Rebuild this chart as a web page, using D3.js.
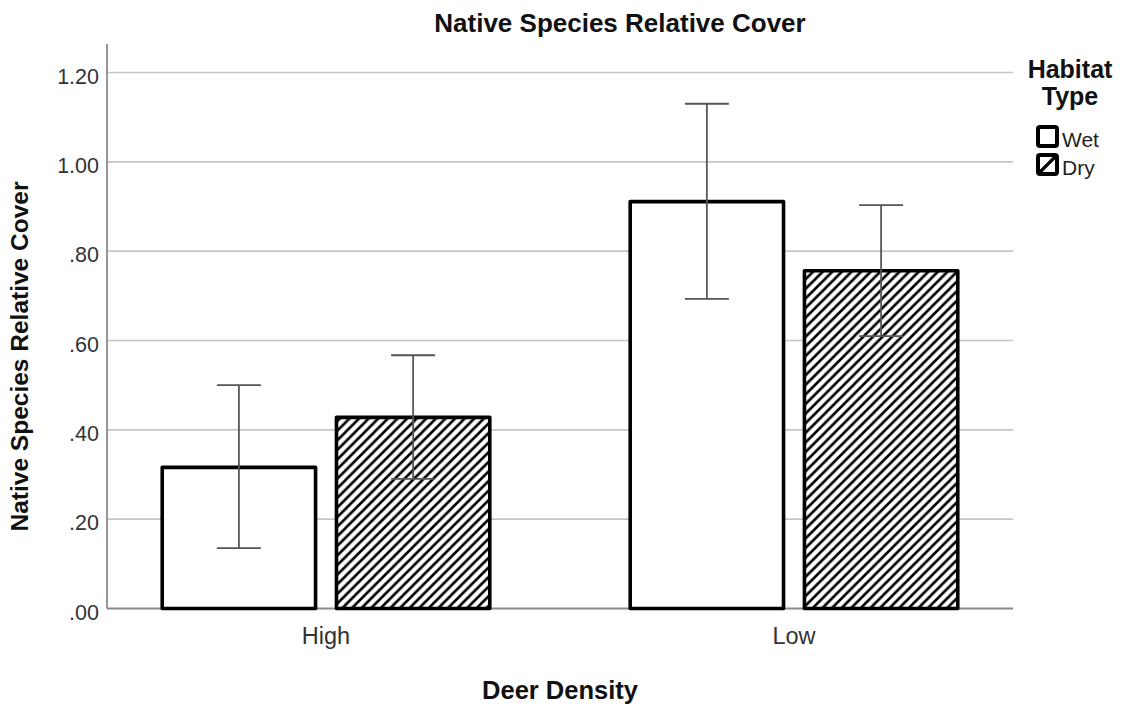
<!DOCTYPE html>
<html>
<head>
<meta charset="utf-8">
<script src="https://cdn.jsdelivr.net/npm/d3@7"></script>
<style>
  html, body { margin: 0; padding: 0; background: #fff; }
  svg { display: block; font-family: "Liberation Sans", Arial, sans-serif; }
</style>
</head>
<body>
<svg id="chart" width="1122" height="707"></svg>
<script>
// ---- data ----
const categories = ["High", "Low"];
const habitats = ["Wet", "Dry"];
const wetMeans = [0.316, 0.911];
const dryMeans = [0.428, 0.756];
const wetLower = [0.135, 0.693];
const wetUpper = [0.500, 1.130];
const dryLower = [0.290, 0.610];
const dryUpper = [0.567, 0.903];
const yTicks = [0, 0.2, 0.4, 0.6, 0.8, 1.0, 1.2];
const yTickLabels = [".00", ".20", ".40", ".60", ".80", "1.00", "1.20"];
const titleText = "Native Species Relative Cover";
const yLabelText = "Native Species Relative Cover";
const xLabelText = "Deer Density";
const legendTitle = ["Habitat", "Type"];

// ---- build table ----
const rows = [];
categories.forEach((c, i) => {
  rows.push({cat: c, hab: "Wet", mean: wetMeans[i], lo: wetLower[i], hi: wetUpper[i]});
  rows.push({cat: c, hab: "Dry", mean: dryMeans[i], lo: dryLower[i], hi: dryUpper[i]});
});

const svg = d3.select("#chart");
const left = 107, right = 1013, axisTop = 44;

const x0 = d3.scaleBand().domain(categories).range([left, right])
  .paddingInner(0.3).paddingOuter(0.118);
const x1 = d3.scaleBand().domain(habitats).range([0, x0.bandwidth()]).paddingInner(0.12);
const y = d3.scaleLinear().domain([0, 1.2]).range([608.5, 72.5]);

// hatch pattern
const defs = svg.append("defs");
const pat = defs.append("pattern").attr("id", "hatch")
  .attr("patternUnits", "userSpaceOnUse").attr("width", 9.6).attr("height", 9.6);
pat.append("rect").attr("width", 9.6).attr("height", 9.6).attr("fill", "#fff");
pat.append("path").attr("d", "M-2.4,2.4 L2.4,-2.4 M0,9.6 L9.6,0 M7.2,12 L12,7.2")
  .attr("stroke", "#000").attr("stroke-width", 2.6);

// gridlines
svg.append("g").selectAll("line").data(yTicks.filter(d => d > 0)).join("line")
  .attr("x1", left).attr("x2", right)
  .attr("y1", d => y(d)).attr("y2", d => y(d))
  .attr("stroke", "#c6c6c6").attr("stroke-width", 1.6);

// axes lines
svg.append("line").attr("x1", left).attr("x2", left).attr("y1", axisTop).attr("y2", y(0))
  .attr("stroke", "#8a8a8a").attr("stroke-width", 1.8);
svg.append("line").attr("x1", left).attr("x2", right).attr("y1", y(0)).attr("y2", y(0))
  .attr("stroke", "#8a8a8a").attr("stroke-width", 1.8);

// y tick labels
svg.append("g").selectAll("text").data(yTicks).join("text")
  .attr("x", 99).attr("y", d => y(d) + 11)
  .attr("text-anchor", "end").attr("font-size", 21.5).attr("fill", "#333")
  .text((d, i) => yTickLabels[i]);

// x tick labels
svg.append("g").selectAll("text").data(categories).join("text")
  .attr("x", d => x0(d) + x0.bandwidth() / 2).attr("y", 644)
  .attr("text-anchor", "middle").attr("font-size", 23.5).attr("fill", "#333")
  .text(d => d);

// bars
svg.append("g").selectAll("rect").data(rows).join("rect")
  .attr("x", d => x0(d.cat) + x1(d.hab))
  .attr("width", x1.bandwidth())
  .attr("y", d => y(d.mean))
  .attr("height", d => y(0) - y(d.mean))
  .attr("fill", d => d.hab === "Wet" ? "#fff" : "url(#hatch)")
  .attr("stroke", "#000").attr("stroke-width", 3.6)
  .attr("stroke-linejoin", "round");

// error bars
const eb = svg.append("g").attr("stroke", "#555").attr("stroke-width", 1.8);
rows.forEach(d => {
  const cx = x0(d.cat) + x1(d.hab) + x1.bandwidth() / 2;
  eb.append("line").attr("x1", cx).attr("x2", cx).attr("y1", y(d.hi)).attr("y2", y(d.lo));
  eb.append("line").attr("x1", cx - 22).attr("x2", cx + 22).attr("y1", y(d.hi)).attr("y2", y(d.hi));
  eb.append("line").attr("x1", cx - 22).attr("x2", cx + 22).attr("y1", y(d.lo)).attr("y2", y(d.lo));
});

// title
svg.append("text").attr("x", 620).attr("y", 31.5).attr("text-anchor", "middle")
  .attr("font-size", 26).attr("font-weight", "bold").attr("fill", "#111").text(titleText);

// y label
svg.append("text").attr("transform", "translate(28,356.5) rotate(-90)")
  .attr("text-anchor", "middle").attr("font-size", 24.5).attr("font-weight", "bold")
  .attr("fill", "#111").text(yLabelText);

// x label
svg.append("text").attr("x", 560).attr("y", 699).attr("text-anchor", "middle")
  .attr("font-size", 25.5).attr("font-weight", "bold").attr("fill", "#111").text(xLabelText);

// legend
const lg = svg.append("g");
lg.selectAll("text.lt").data(legendTitle).join("text").attr("class", "lt")
  .attr("x", 1070).attr("y", (d, i) => 78 + i * 27).attr("text-anchor", "middle")
  .attr("font-size", 25).attr("font-weight", "bold").attr("fill", "#111").text(d => d);
habitats.forEach((h, i) => {
  const yy = 127 + i * 28;
  lg.append("rect").attr("x", 1038).attr("y", yy).attr("width", 19).attr("height", 19)
    .attr("rx", 2).attr("fill", "#fff").attr("stroke", "#000").attr("stroke-width", 4);
  if (h === "Dry") {
    lg.append("line").attr("x1", 1040).attr("y1", yy + 17).attr("x2", 1055).attr("y2", yy + 2)
      .attr("stroke", "#000").attr("stroke-width", 3.2);
  }
  lg.append("text").attr("x", 1062).attr("y", yy + 19.5).attr("font-size", 21)
    .attr("fill", "#222").text(h);
});
</script>
</body>
</html>
